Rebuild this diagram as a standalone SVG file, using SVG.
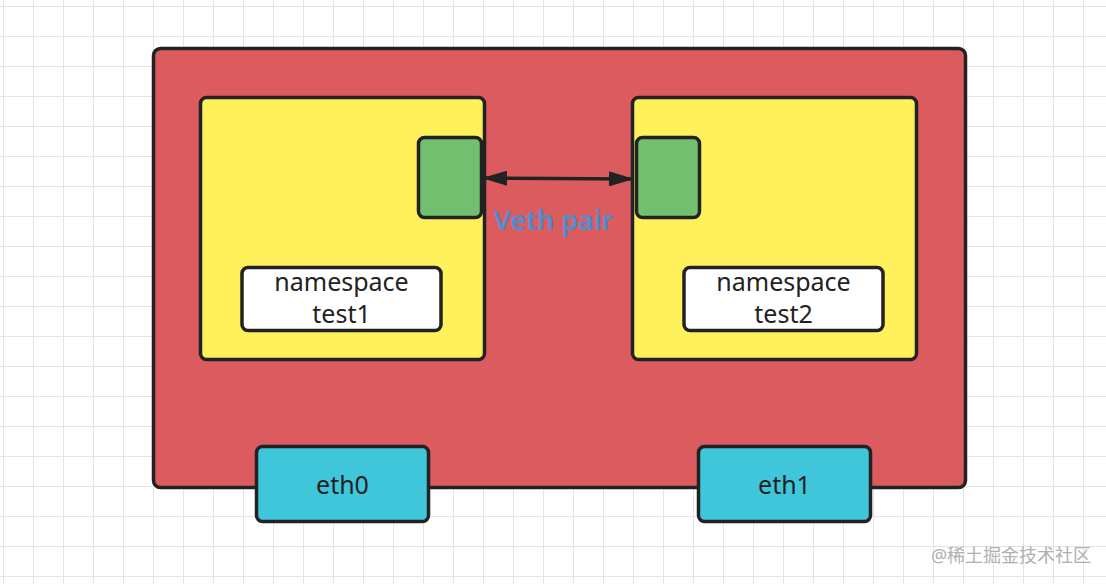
<svg xmlns="http://www.w3.org/2000/svg" width="1106" height="584" viewBox="0 0 1106 584">
<defs>
<pattern id="grid" x="3" y="6" width="30" height="30" patternUnits="userSpaceOnUse">
<path d="M0 0V30M0 0H30" fill="none" stroke="#e4e4e4" stroke-width="2"/>
</pattern>
<marker id="ah" viewBox="0 0 25 15" refX="24" refY="7.5" markerWidth="25" markerHeight="15" markerUnits="userSpaceOnUse" orient="auto-start-reverse">
<path d="M0 0L25 7.5L0 15Z" fill="#222"/>
</marker>
<style>
.box{stroke:#222;stroke-width:3.5}
.t{font-family:"Noto Sans","Open Sans",sans-serif;fill:#222;text-anchor:middle}
</style>
</defs>
<rect width="1106" height="584" fill="#ffffff"/>
<rect width="1106" height="584" fill="url(#grid)"/>
<g id="host">
<rect class="box" x="153.5" y="48.5" width="812" height="439" rx="7" fill="#dc5b5f"/>
</g>
<g id="ns1">
<rect class="box" x="200.5" y="97.5" width="284" height="262" rx="6" fill="#fef15c"/>
</g>
<g id="ns2">
<rect class="box" x="632.5" y="97.5" width="284" height="262" rx="6" fill="#fef15c"/>
</g>
<g id="veth1">
<rect class="box" x="418.5" y="137.5" width="63" height="80" rx="6" fill="#72bf6f"/>
</g>
<g id="veth2">
<rect class="box" x="636.5" y="137.5" width="63" height="80" rx="6" fill="#72bf6f"/>
</g>
<g id="label1">
<rect class="box" x="242" y="267.5" width="199" height="63" rx="6" fill="#ffffff"/>
<text class="t" x="341.5" y="291" font-size="25">namespace</text>
<text class="t" x="341.5" y="323" font-size="25">test1</text>
</g>
<g id="label2">
<rect class="box" x="684" y="267.5" width="199" height="63" rx="6" fill="#ffffff"/>
<text class="t" x="783.5" y="291" font-size="25">namespace</text>
<text class="t" x="783.5" y="323" font-size="25">test2</text>
</g>
<g id="eth0">
<rect class="box" x="256.5" y="446.5" width="172" height="75" rx="6" fill="#40c6da"/>
<text class="t" x="342.5" y="494" font-size="25">eth0</text>
</g>
<g id="eth1">
<rect class="box" x="698.5" y="446.5" width="172" height="75" rx="6" fill="#40c6da"/>
<text class="t" x="784.5" y="494" font-size="25">eth1</text>
</g>
<g id="connectors">
<line x1="483" y1="178" x2="633" y2="179" stroke="#222" stroke-width="3.5" marker-start="url(#ah)" marker-end="url(#ah)"/>
<text x="553.5" y="230" font-family="Noto Sans, Open Sans, sans-serif" font-size="27" font-weight="600" fill="#4a8fcf" text-anchor="middle">Veth pair</text>
</g>
<text x="1011" y="562" font-family="Noto Sans, Noto Sans CJK SC, sans-serif" font-size="18" fill="#b0b0b0" text-anchor="middle">@稀土掘金技术社区</text>
</svg>
